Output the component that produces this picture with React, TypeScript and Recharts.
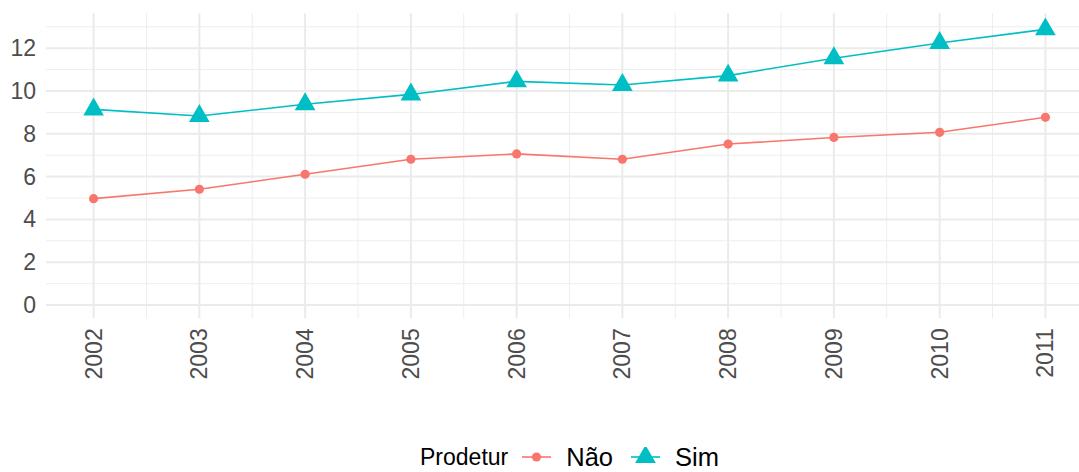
import { CartesianGrid, Legend, Line, LineChart, XAxis, YAxis } from "recharts";

const years = [2002, 2003, 2004, 2005, 2006, 2007, 2008, 2009, 2010, 2011];
const nao = [4.97, 5.41, 6.11, 6.81, 7.06, 6.81, 7.52, 7.83, 8.07, 8.77];
const sim = [9.14, 8.83, 9.38, 9.84, 10.45, 10.28, 10.72, 11.53, 12.24, 12.88];
const yTicks = [0, 2, 4, 6, 8, 10, 12];
const yMinor = [1, 3, 5, 7, 9, 11, 13];
const xMinor = [2002.5, 2003.5, 2004.5, 2005.5, 2006.5, 2007.5, 2008.5, 2009.5, 2010.5];

const RED = "#F8766D";
const CYAN = "#00BFC4";
const FONT = "'Liberation Sans', Arial, Helvetica, sans-serif";

const data = years.map((year, i) => ({ year, nao: nao[i], sim: sim[i] }));

const Triangle = (props: any) => {
  const { cx, cy, fill, size = 20.7 } = props;
  if (cx == null || cy == null) return null;
  const h = (size * Math.sqrt(3)) / 2;
  const pts = [
    [cx, cy - (2 * h) / 3],
    [cx + size / 2, cy + h / 3],
    [cx - size / 2, cy + h / 3],
  ]
    .map((p) => p.join(","))
    .join(" ");
  return <polygon points={pts} fill={fill} />;
};

const YTick = ({ x, y, payload }: any) => (
  <text x={x} y={y} dy="0.35em" textAnchor="end" fill="#4D4D4D" fontSize={23} fontFamily={FONT}>
    {payload.value}
  </text>
);

const XTick = ({ x, y, payload }: any) => (
  <text
    x={x}
    y={y}
    dy="0.35em"
    textAnchor="end"
    transform={`rotate(-90, ${x}, ${y})`}
    fill="#4D4D4D"
    fontSize={23}
    fontFamily={FONT}
  >
    {payload.value}
  </text>
);

const LegendBox = () => (
  <div
    style={{
      height: 40,
      boxSizing: "border-box",
      paddingTop: 10,
      paddingLeft: 46,
      display: "flex",
      justifyContent: "center",
      alignItems: "center",
      fontFamily: FONT,
      color: "#000",
      lineHeight: "26px",
    }}
  >
    <span style={{ fontSize: 23, marginRight: 14 }}>Prodetur</span>
    <svg width={29} height={20} style={{ marginRight: 15 }}>
      <line x1={0} y1={10} x2={29} y2={10} stroke={RED} strokeWidth={1.6} />
      <circle cx={14.5} cy={10} r={4.6} fill={RED} />
    </svg>
    <span style={{ fontSize: 25.5, marginRight: 18 }}>Não</span>
    <svg width={29} height={20} style={{ marginRight: 15 }}>
      <line x1={0} y1={10} x2={29} y2={10} stroke={CYAN} strokeWidth={1.6} />
      <Triangle cx={14.5} cy={10} fill={CYAN} />
    </svg>
    <span style={{ fontSize: 25.5 }}>Sim</span>
  </div>
);

export default function App() {
  return (
    <div
      style={{
        position: "fixed",
        left: 0,
        top: 0,
        width: 1079,
        height: 472,
        overflow: "hidden",
        background: "#fff",
      }}
    >
      <LineChart width={1093} height={472} data={data} margin={{ top: 13.3, right: 0, left: 0, bottom: 0 }}>
        <CartesianGrid
          horizontalValues={yMinor}
          verticalValues={xMinor}
          stroke="#EEEEEE"
          strokeWidth={1}
        />
        <CartesianGrid
          horizontalValues={yTicks}
          verticalValues={years}
          stroke="#EBEBEB"
          strokeWidth={2}
        />
        <XAxis
          dataKey="year"
          type="number"
          domain={[2001.55, 2011.45]}
          allowDataOverflow
          ticks={years}
          height={113.7}
          axisLine={false}
          tickLine={false}
          tickSize={0}
          tickMargin={10}
          tick={<XTick />}
          interval={0}
        />
        <YAxis
          domain={[-0.62, 13.63]}
          allowDataOverflow
          ticks={yTicks}
          width={46}
          axisLine={false}
          tickLine={false}
          tickSize={0}
          tickMargin={10}
          tick={<YTick />}
          interval={0}
        />
        <Legend verticalAlign="bottom" content={<LegendBox />} />
        <Line
          dataKey="nao"
          name="Não"
          stroke={RED}
          strokeWidth={1.6}
          dot={{ r: 4.6, fill: RED, stroke: "none" }}
          activeDot={false}
          isAnimationActive={false}
        />
        <Line
          dataKey="sim"
          name="Sim"
          stroke={CYAN}
          strokeWidth={1.6}
          dot={(p: any) => <Triangle key={p.index} cx={p.cx} cy={p.cy} fill={CYAN} />}
          activeDot={false}
          isAnimationActive={false}
        />
      </LineChart>
    </div>
  );
}
